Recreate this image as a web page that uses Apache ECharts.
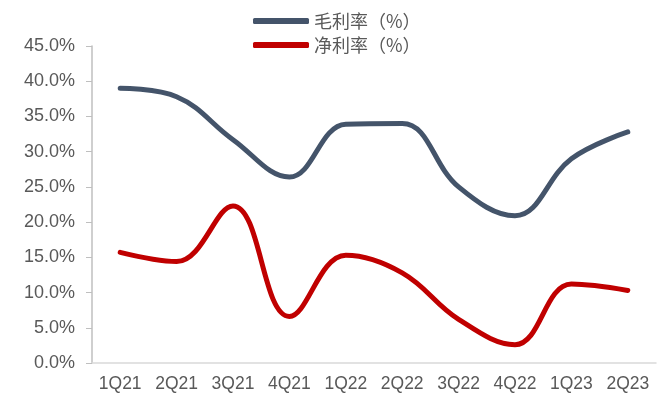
<!DOCTYPE html>
<html><head><meta charset="utf-8">
<script src="https://cdn.jsdelivr.net/npm/echarts@6/dist/echarts.min.js"></script>
<style>html,body{margin:0;padding:0;background:#fff}#c{width:670px;height:401px}</style>
</head><body><div id="c"></div>
<script>
var categories = ['1Q21','2Q21','3Q21','4Q21','1Q22','2Q22','3Q22','4Q22','1Q23','2Q23'];
var grossMargin = [39.0, 37.8, 31.7, 26.4, 33.9, 34.0, 25.0, 20.9, 29.0, 32.8];
var netMargin = [15.7, 14.4, 22.3, 6.6, 15.3, 12.8, 6.2, 2.6, 11.2, 10.3];
var seriesNames = ['毛利率（%）', '净利率（%）'];
var seriesColors = ['#44546A', '#C00000'];

var chart = echarts.init(document.getElementById('c'), null, {renderer:'canvas'});
chart.setOption({
  animation: false,
  legend: {
    orient: 'vertical',
    left: 248, top: 7,
    itemWidth: 56, itemHeight: 6, itemGap: 6,
    icon: 'roundRect',
    textStyle: {fontSize: 18, color: '#595959', fontFamily: '"Noto Sans CJK SC", sans-serif'},
    data: seriesNames
  },
  grid: {left: 92, right: 14, top: 46, bottom: 38, containLabel: false},
  xAxis: {
    type: 'category', data: categories, boundaryGap: true,
    axisLine: {lineStyle: {color: '#D9D9D9', width: 1.5}},
    axisTick: {show: false},
    axisLabel: {interval: 0, color: '#595959', fontSize: 17.5, fontFamily: '"Liberation Sans", Arial, sans-serif', margin: 12}
  },
  yAxis: {
    type: 'value', min: 0, max: 45, interval: 5,
    axisLine: {show: true, lineStyle: {color: '#BFBFBF', width: 1.5}},
    axisTick: {show: true, length: 6, lineStyle: {color: '#BFBFBF'}},
    splitLine: {show: false},
    axisLabel: {color: '#595959', fontSize: 18, fontFamily: '"Liberation Sans", Arial, sans-serif', margin: 17,
      formatter: function(v){return v.toFixed(1) + '%';}}
  },
  series: [
    {name: seriesNames[0], type: 'line', data: grossMargin, smooth: 0.4, symbol: 'none',
     lineStyle: {color: seriesColors[0], width: 5, cap: 'round'}, itemStyle: {color: seriesColors[0]}},
    {name: seriesNames[1], type: 'line', data: netMargin, smooth: 0.4, symbol: 'none',
     lineStyle: {color: seriesColors[1], width: 5, cap: 'round'}, itemStyle: {color: seriesColors[1]}}
  ]
});
</script></body></html>
